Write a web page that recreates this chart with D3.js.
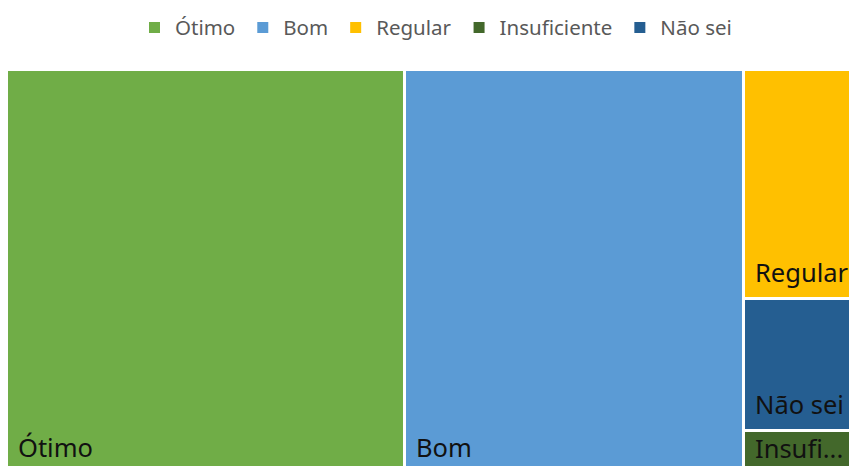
<!DOCTYPE html>
<html>
<head>
<meta charset="utf-8">
<script src="https://cdn.jsdelivr.net/npm/d3@7"></script>
<style>
  body { margin: 0; background: #fff; }
  svg { display: block; }
</style>
</head>
<body>
<svg id="chart"></svg>
<script>
var width = 849, height = 466;

// data (share of answers, %)
var categories = ["Ótimo", "Bom", "Regular", "Insuficiente", "Não sei"];
var values = [45.8, 39.0, 8.6, 1.6, 5.0];
var colors = ["#70AD47", "#5B9BD5", "#FFC000", "#43682B", "#255E91"];
var labels = ["Ótimo", "Bom", "Regular", "Insufi...", "Não sei"];

// plot area runs past the cropped right and bottom edges
var area = {left: 8, top: 71, w: 866, h: 401};

var svg = d3.select("#chart")
    .attr("width", width)
    .attr("height", height);

var root = d3.hierarchy({children: categories.map(function (c, i) {
        return {name: c, value: values[i], color: colors[i], label: labels[i]};
    })})
    .sum(function (d) { return d.value || 0; })
    .sort(function (a, b) { return b.value - a.value; });

d3.treemap()
    .tile(d3.treemapSquarify.ratio(1))
    .size([area.w, area.h])
    .paddingInner(3)
    .round(true)(root);

var cell = svg.append("g")
    .attr("transform", "translate(" + area.left + "," + area.top + ")")
    .selectAll("g")
    .data(root.leaves())
    .join("g");

cell.append("rect")
    .attr("x", function (d) { return d.x0; })
    .attr("y", function (d) { return d.y0; })
    .attr("width", function (d) { return d.x1 - d.x0; })
    .attr("height", function (d) { return d.y1 - d.y0; })
    .attr("fill", function (d) { return d.data.color; });

cell.append("text")
    .attr("x", function (d) { return d.x0 + 10; })
    .attr("y", function (d) { return (d.y1 - d.y0) > 60 ? d.y1 - 15 : d.y0 + 26; })
    .attr("font-family", "Noto Sans")
    .attr("font-size", 25.5)
    .attr("fill", "#111")
    .text(function (d) { return d.data.label; });

// legend, centred over the chart
var legend = svg.append("g").attr("font-family", "Noto Sans").attr("font-size", 20.5);
var items = legend.selectAll("g")
    .data(categories)
    .join("g");

items.append("rect")
    .attr("width", 11)
    .attr("height", 11)
    .attr("y", 22)
    .attr("fill", function (d, i) { return colors[i]; });

items.append("text")
    .attr("x", 26)
    .attr("y", 35)
    .attr("fill", "#595959")
    .text(function (d) { return d; });

var xpos = 0;
items.each(function () {
    d3.select(this).attr("transform", "translate(" + xpos + ",0)");
    xpos += this.getBBox().width + 22;
});
xpos -= 22;
legend.attr("transform", "translate(" + Math.round(440 - xpos / 2) + ",0)");
</script>
</body>
</html>
